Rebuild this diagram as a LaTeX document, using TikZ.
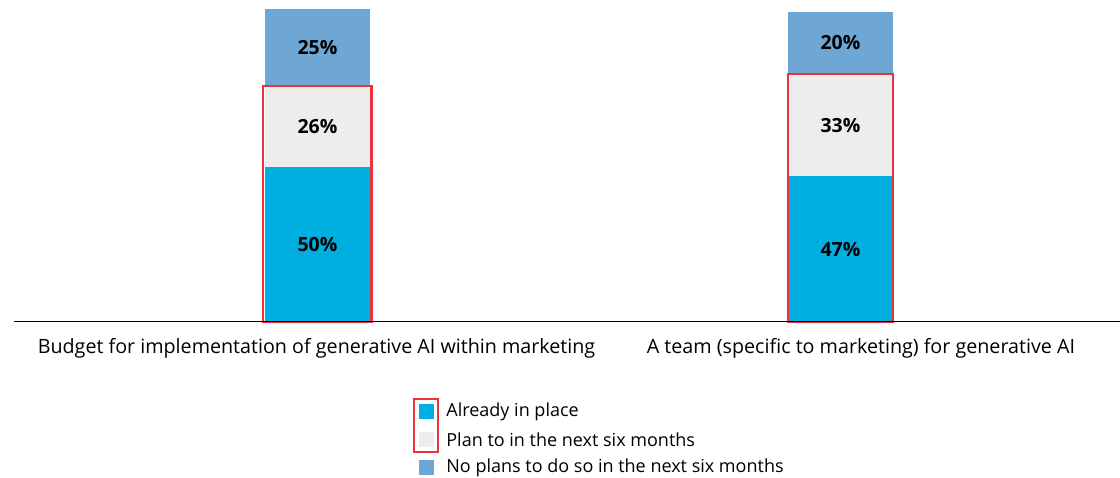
\documentclass[tikz,border=0pt]{standalone}
\usepackage{fontspec}
\setmainfont{Open Sans}
\usetikzlibrary{positioning}
\definecolor{inplace}{HTML}{00AEE0}
\definecolor{planned}{HTML}{EDEDED}
\definecolor{noplans}{HTML}{6FA7D4}
\definecolor{hilite}{HTML}{E8333F}
\begin{document}
\begin{tikzpicture}[
    x=1pt, y=-1pt,
    % GLOBAL CFG
    font=\fontsize{19.7}{23}\selectfont,
    % Styles
    seg/.style={% For one part of a bar
        rectangle,
        inner sep=0pt,
        outer sep=0pt,
        minimum width=105pt,
        font=\fontsize{19.5}{23}\selectfont\bfseries,
        },
    box/.style={% For the red frame
        draw=hilite,
        line width=2.2pt,
        },
    key/.style={% For legend squares
        rectangle,
        inner sep=0pt,
        minimum size=15pt,
        },
    keytext/.style={% For legend texts
        anchor=west,
        inner sep=0pt,
        font=\fontsize{18}{21}\selectfont,
        },
    ]
    \useasboundingbox (0,0) rectangle (1120,478);

    % Draw the first bar, named b1#
    \node [seg, fill=inplace, minimum height=155pt, anchor=south] (b1a) at (317.5,322) {50\%};
    \node [seg, fill=planned, minimum height=80.6pt, above=0pt of b1a] (b1b) {26\%};
    \node [seg, fill=noplans, minimum height=77.5pt, above=0pt of b1b] (b1c) {25\%};

    % Draw the second bar, named b2#
    \node [seg, fill=inplace, minimum height=145.7pt, anchor=south] (b2a) at (840.5,322) {47\%};
    \node [seg, fill=planned, minimum height=102.3pt, above=0pt of b2a] (b2b) {33\%};
    \node [seg, fill=noplans, minimum height=62pt, above=0pt of b2b] (b2c) {20\%};

    % Frames
    \draw [box] ([xshift=-2pt]b1a.south west) rectangle ([xshift=1.5pt]b1b.north east);
    \draw [box] (b2a.south west) rectangle (b2b.north east);

    % Axis
    \coordinate (ax1) at (14,322);
    \coordinate (ax2) at (1120,322);
    \draw [line width=1pt] (ax1) -- (ax2);

    % Category labels
    \node (cat1) at (316.5,348) {Budget for implementation of generative AI within marketing};
    \node (cat2) at (861,348) {A team (specific to marketing) for generative AI};

    % Legend, named k# and t#
    \node [key, fill=inplace] (k1) at (426.5,411.5) {};
    \node [key, fill=planned] (k2) at (426.5,439.5) {};
    \node [key, fill=noplans] (k3) at (426.5,467.5) {};
    \node [keytext, right=12pt of k1] (t1) {Already in place};
    \node [keytext, right=12pt of k2] (t2) {Plan to in the next six months};
    \node [keytext, right=12pt of k3] (t3) {No plans to do so in the next six months};
    \draw [box, line width=1.8pt] ([shift={(-5,-5)}]k1.north west) rectangle ([shift={(4,5)}]k2.south east);
\end{tikzpicture}
\end{document}
